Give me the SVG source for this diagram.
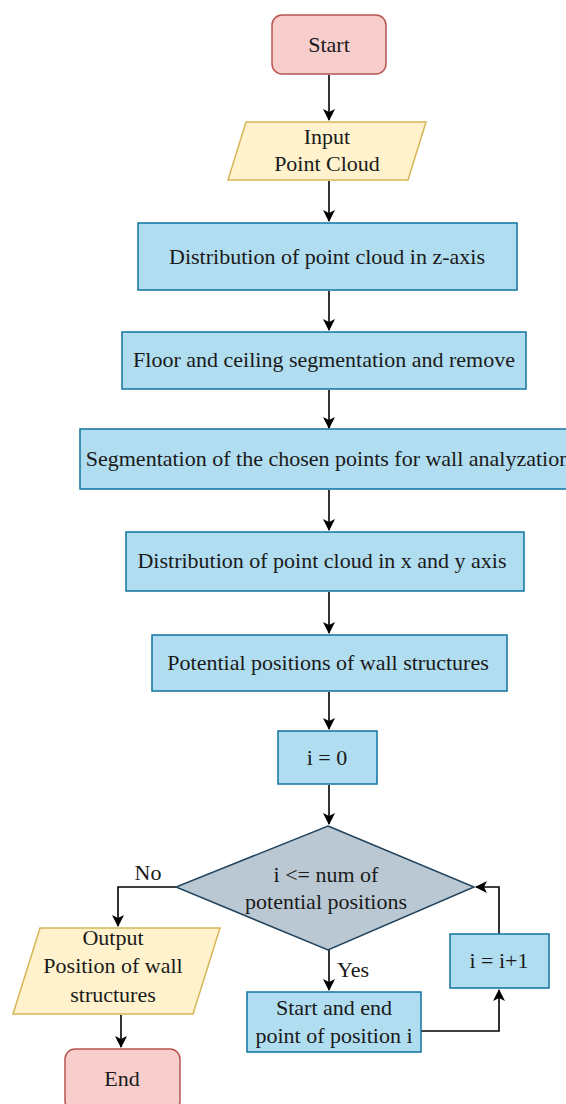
<svg xmlns="http://www.w3.org/2000/svg" width="566" height="1104" viewBox="0 0 566 1104">
<style>
.t{font-size:22px;fill:#1a1a1a;text-anchor:middle}
.term{fill:#f8cecc;stroke:#b85450;stroke-width:1.5}
.io{fill:#fff2cc;stroke:#d6b656;stroke-width:1.5}
.proc{fill:#b1ddf0;stroke:#10739e;stroke-width:1.5}
.dec{fill:#bac8d3;stroke:#23445d;stroke-width:1.5}
.c{fill:none;stroke:#000;stroke-width:1.6}
</style>
<defs>
<marker id="ah" viewBox="0 0 12 12" refX="11" refY="6" markerWidth="12" markerHeight="12" markerUnits="userSpaceOnUse" orient="auto">
<path d="M0,0 L12,6 L0,12 L3,6 Z" fill="#000"/>
</marker>
</defs>
<rect width="566" height="1104" fill="#fff"/>
<g font-family="Liberation Serif, DejaVu Serif, serif">
<g id="connectors">
<path class="c" d="M329,75 V120" marker-end="url(#ah)"/>
<path class="c" d="M329,181 V221" marker-end="url(#ah)"/>
<path class="c" d="M329,291 V330" marker-end="url(#ah)"/>
<path class="c" d="M329,390 V428" marker-end="url(#ah)"/>
<path class="c" d="M329,490 V530" marker-end="url(#ah)"/>
<path class="c" d="M329,592 V633" marker-end="url(#ah)"/>
<path class="c" d="M329,692 V729" marker-end="url(#ah)"/>
<path class="c" d="M329,785 V824" marker-end="url(#ah)"/>
<path class="c" d="M176,887 H118 V926" marker-end="url(#ah)"/>
<path class="c" d="M121,1015 V1047" marker-end="url(#ah)"/>
<path class="c" d="M329,950 V990" marker-end="url(#ah)"/>
<path class="c" d="M421,1031 H499 V990" marker-end="url(#ah)"/>
<path class="c" d="M499,934 V887 H476" marker-end="url(#ah)"/>
<text class="t" x="148" y="880">No</text>
<text class="t" x="353" y="977">Yes</text>
</g>
<g id="start">
<rect class="term" x="272" y="15" width="114" height="59" rx="10"/>
<text class="t" x="329" y="52">Start</text>
</g>
<g id="input">
<polygon class="io" points="246,122 426,122 408,180 228,180"/>
<text class="t" x="327" y="144">Input</text>
<text class="t" x="327" y="171">Point Cloud</text>
</g>
<g id="dist-z">
<rect class="proc" x="138" y="223" width="379" height="67"/>
<text class="t" x="327" y="264">Distribution of point cloud in z-axis</text>
</g>
<g id="floor">
<rect class="proc" x="122" y="332" width="404" height="57"/>
<text class="t" x="324" y="367">Floor and ceiling segmentation and remove</text>
</g>
<g id="segm">
<rect class="proc" x="80" y="429" width="500" height="60"/>
<text class="t" x="328" y="466">Segmentation of the chosen points for wall analyzation</text>
</g>
<g id="dist-xy">
<rect class="proc" x="126" y="532" width="398" height="59"/>
<text class="t" x="322" y="568">Distribution of point cloud in x and y axis</text>
</g>
<g id="potential">
<rect class="proc" x="152" y="635" width="355" height="56"/>
<text class="t" x="328" y="670">Potential positions of wall structures</text>
</g>
<g id="init">
<rect class="proc" x="278" y="731" width="99" height="53"/>
<text class="t" x="327" y="765">i = 0</text>
</g>
<g id="decision">
<polygon class="dec" points="328,826 474,887 328,950 176,887"/>
<text class="t" x="326" y="882">i &lt;= num of</text>
<text class="t" x="326" y="909">potential positions</text>
</g>
<g id="output">
<polygon class="io" points="40,928 220,928 193,1014 13,1014"/>
<text class="t" x="113" y="945">Output</text>
<text class="t" x="113" y="973">Position of wall</text>
<text class="t" x="113" y="1002">structures</text>
</g>
<g id="end">
<rect class="term" x="65" y="1049" width="115" height="62" rx="10"/>
<text class="t" x="122" y="1086">End</text>
</g>
<g id="startend">
<rect class="proc" x="247" y="992" width="174" height="60"/>
<text class="t" x="334" y="1015">Start and end</text>
<text class="t" x="334" y="1043">point of position i</text>
</g>
<g id="incr">
<rect class="proc" x="450" y="934" width="99" height="54"/>
<text class="t" x="499" y="968">i = i+1</text>
</g>
</g>
</svg>
